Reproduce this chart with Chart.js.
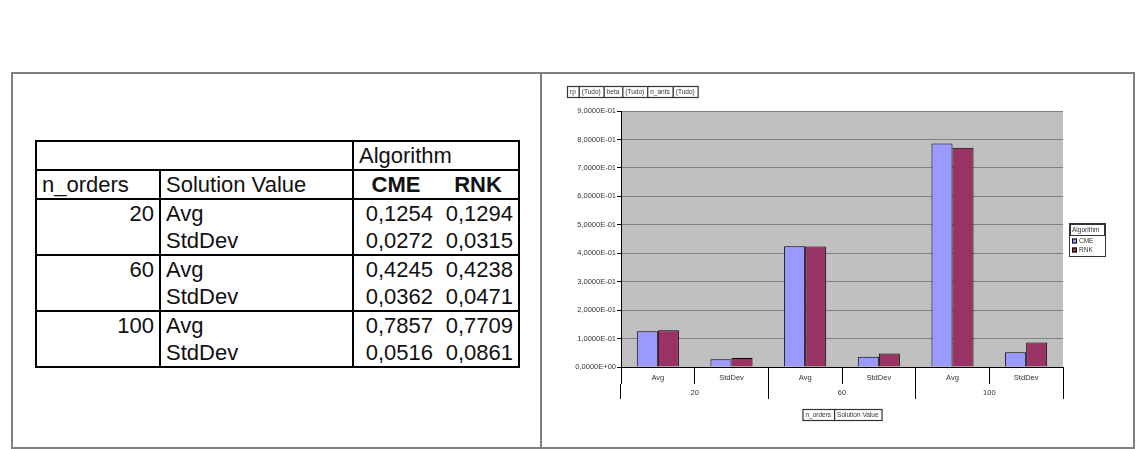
<!DOCTYPE html>
<html>
<head>
<meta charset="utf-8">
<script src="https://cdn.jsdelivr.net/npm/chart.js"></script>
<style>
body { margin: 0; background: #fff; font-family: 'Liberation Sans', Arial, sans-serif; }
#moldura { position: absolute; left: 11px; top: 72px; width: 1120px; height: 373px; border: 2px solid #808080; }
#divisoria { position: absolute; left: 540px; top: 72px; width: 2px; height: 377px; background: #808080; }
#tabela { position: absolute; left: 35px; top: 140px; border-collapse: collapse; table-layout: fixed; font-size: 22px; border: 2px solid #000; color: #111; }
#tabela td { height: 27px; line-height: 27px; padding: 0 5px; white-space: nowrap; overflow: hidden; }
#tabela tr.cab td { border-bottom: 2px solid #000; }
#tabela tbody { border-top: 2px solid #000; }
#tabela td.sep { border-right: 2px solid #000; }
#tabela td.num { text-align: right; }
#tabela td.alg { text-align: center; font-weight: bold; }
#grafico { position: absolute; left: 542px; top: 74px; }
</style>
</head>
<body>
<div id="moldura"></div>
<div id="divisoria"></div>
<table id="tabela"></table>
<canvas id="grafico" width="590" height="372"></canvas>
<script>
// dados do grafico e da tabela
const categorias = ['Avg', 'StdDev', 'Avg', 'StdDev', 'Avg', 'StdDev']
const grupos = ['20', '60', '100']
const algoritmos = ['CME', 'RNK']
const valoresCME = [0.1254, 0.0272, 0.4245, 0.0362, 0.7857, 0.0516]
const valoresRNK = [0.1294, 0.0315, 0.4238, 0.0471, 0.7709, 0.0861]
const coresAlgoritmos = ['#9999ff', '#993366']
const camposTopo = ['rp', '(Tudo)', 'beta', '(Tudo)', 'n_ants', '(Tudo)']
const camposBase = ['n_orders', 'Solution Value']

const tabela = document.querySelector('table#tabela')
const canvasGrafico = document.querySelector('canvas#grafico')

//numero no formato da tabela (virgula decimal)
function formatoTabela(valor){
    return valor.toFixed(4).replace('.', ',')
}

//numero no formato do eixo: 9,0000E-01
function formatoCientifico(valor){
    let partes = Number(valor).toExponential(4).split('e')
    let expoente = Number(partes[1])
    let sinal = expoente < 0 ? '-' : '+'
    let digitos = String(Math.abs(expoente)).padStart(2, '0')
    return `${partes[0].replace('.', ',')}E${sinal}${digitos}`
}

//montando a tabela
let html = '<colgroup><col style="width:124px"><col style="width:193px"><col style="width:85px"><col style="width:81px"></colgroup>'
html += '<tr class="cab"><td colspan="2" class="sep"></td><td colspan="2">Algorithm</td></tr>'
html += `<tr class="cab"><td class="sep">${camposBase[0]}</td><td class="sep">${camposBase[1]}</td>`
html += `<td class="alg">${algoritmos[0]}</td><td class="alg">${algoritmos[1]}</td></tr>`
for(let g = 0; g < grupos.length; g++){
    html += '<tbody>'
    for(let k = 0; k < 2; k++){
        let i = g * 2 + k
        html += '<tr>'
        if(k === 0){
            html += `<td rowspan="2" class="sep num" style="vertical-align:top">${grupos[g]}</td>`
        }
        html += `<td class="sep">${categorias[i]}</td>`
        html += `<td class="num">${formatoTabela(valoresCME[i])}</td><td class="num">${formatoTabela(valoresRNK[i])}</td>`
        html += '</tr>'
    }
    html += '</tbody>'
}
tabela.innerHTML = html

const fonteEixo = { family: "'Liberation Sans', Arial, sans-serif", size: 7.5 }

//fundo cinza da area do grafico
const fundoCinza = {
    id: 'fundoCinza',
    beforeDraw(chart){
        const {ctx, chartArea} = chart
        ctx.save()
        ctx.fillStyle = '#c0c0c0'
        ctx.fillRect(chartArea.left, chartArea.top, chartArea.right - chartArea.left, chartArea.bottom - chartArea.top)
        ctx.restore()
    }
}

//desenha um botao de campo da tabela dinamica
function botao(ctx, x, y, texto){
    let largura = ctx.measureText(texto).width + 6
    ctx.fillStyle = '#fff'
    ctx.fillRect(x, y, largura, 11)
    ctx.strokeStyle = '#333'
    ctx.lineWidth = 1.2
    ctx.strokeRect(x + 0.5, y + 0.5, largura, 11)
    ctx.fillStyle = '#333'
    ctx.fillText(texto, x + 3, y + 6)
    return largura
}

//botoes de campo e legenda
const extras = {
    id: 'extras',
    afterDraw(chart){
        const {ctx, chartArea} = chart
        ctx.save()
        ctx.font = "6.5px 'Liberation Sans', Arial, sans-serif"
        ctx.textBaseline = 'middle'

        let x = 25
        for(let campo of camposTopo){
            x += botao(ctx, x, 12, campo)
        }

        let larguraBase = 0
        for(let campo of camposBase){
            larguraBase += ctx.measureText(campo).width + 6
        }
        x = (chartArea.left + chartArea.right) / 2 - larguraBase / 2
        let yBase = chart.scales.x2.bottom + 10
        for(let campo of camposBase){
            x += botao(ctx, x, yBase, campo)
        }

        //legenda
        let lx = chartArea.right + 6
        let ly = chartArea.top + 112
        ctx.fillStyle = '#fff'
        ctx.fillRect(lx, ly, 36, 33)
        ctx.strokeStyle = '#333'
        ctx.lineWidth = 1
        ctx.strokeRect(lx + 0.5, ly + 0.5, 36, 33)
        ctx.strokeRect(lx + 1.5, ly + 1.5, 34, 11)
        ctx.fillStyle = '#333'
        ctx.fillText('Algorithm', lx + 3, ly + 7.5)
        algoritmos.forEach(function(nome, i){
            let yy = ly + 18 + i * 9
            ctx.fillStyle = coresAlgoritmos[i]
            ctx.fillRect(lx + 3, yy - 2.5, 5, 5)
            ctx.strokeStyle = '#000'
            ctx.strokeRect(lx + 3.5, yy - 2, 4, 4)
            ctx.fillStyle = '#333'
            ctx.fillText(nome, lx + 10, yy + 0.5)
        })
        ctx.restore()
    }
}

let grafico = new Chart(canvasGrafico, {
    type: 'bar',
    data: {
        labels: categorias,
        datasets: [
            {
                label: algoritmos[0],
                data: valoresCME,
                backgroundColor: coresAlgoritmos[0],
                borderColor: '#000',
                borderWidth: 1,
                categoryPercentage: 2 / 3.5,
                barPercentage: 1
            },
            {
                label: algoritmos[1],
                data: valoresRNK,
                backgroundColor: coresAlgoritmos[1],
                borderColor: '#000',
                borderWidth: 1,
                categoryPercentage: 2 / 3.5,
                barPercentage: 1
            }
        ]
    },
    options: {
        responsive: false,
        animation: false,
        layout: { padding: { top: 37, right: 69, bottom: 47, left: 0 } },
        plugins: {
            legend: { display: false },
            tooltip: { enabled: false }
        },
        scales: {
            x: {
                position: 'bottom',
                weight: 0,
                offset: true,
                grid: { offset: true, drawOnChartArea: false, tickLength: 17, color: '#000' },
                border: { color: '#000', width: 1 },
                ticks: { font: fonteEixo, color: '#333', padding: -10.5, maxRotation: 0, autoSkip: false },
                afterFit: function(scale){ scale.height = 17 }
            },
            x2: {
                type: 'category',
                labels: grupos,
                position: 'bottom',
                weight: 1,
                offset: true,
                grid: { offset: true, drawOnChartArea: false, tickLength: 15, color: '#000' },
                border: { display: false },
                ticks: { font: fonteEixo, color: '#333', padding: -10.5, maxRotation: 0, autoSkip: false },
                afterFit: function(scale){ scale.height = 15 }
            },
            y: {
                min: 0,
                max: 0.9,
                ticks: { stepSize: 0.1, callback: formatoCientifico, font: fonteEixo, color: '#333', padding: 1 },
                grid: { color: '#808080', tickLength: 4, tickColor: '#000' },
                border: { color: '#000', width: 1 },
                afterFit: function(scale){ scale.width = 79 }
            }
        }
    },
    plugins: [fundoCinza, extras]
})
</script>
</body>
</html>
